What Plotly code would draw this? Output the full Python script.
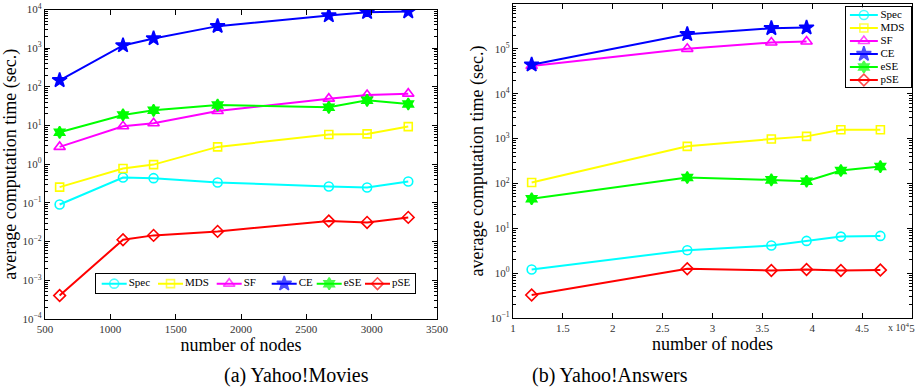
import plotly.graph_objects as go

# ---------------- data ----------------
series = ["Spec", "MDS", "SF", "CE", "eSE", "pSE"]

movies_nodes = [612, 1097, 1331, 1821, 2672, 2965, 3280]
movies_spec = [0.091, 0.455, 0.437, 0.338, 0.267, 0.251, 0.359]
movies_mds = [0.256, 0.776, 0.98, 2.81, 5.85, 6.08, 9.4]
movies_sf = [2.81, 9.6, 11.5, 23.8, 49.6, 61.7, 66.8]
movies_ce = [148, 1178, 1786, 3715, 7000, 8530, 8870]
movies_ese = [6.7, 18.8, 24.8, 34.0, 29.6, 45.0, 36.1]
movies_pse = [0.000403, 0.0112, 0.0145, 0.0184, 0.034, 0.0314, 0.0423]

answers_nodes = [11870, 27470, 35900, 39430, 42870, 46830]
answers_spec = [1.21, 3.25, 4.12, 5.23, 6.53, 6.76]
answers_mds = [105, 671, 977, 1119, 1573, 1573]
answers_sf = [41400, 100000, 138700, 146000]
answers_ce = [44300, 212000, 288000, 298000]
answers_ese = [45.5, 135.5, 120, 112, 194, 238]
answers_pse = [0.326, 1.25, 1.15, 1.21, 1.15, 1.17]

movies_x_ticks = [500, 1000, 1500, 2000, 2500, 3000, 3500]
answers_x_ticks = [10000, 15000, 20000, 25000, 30000, 35000, 40000, 45000, 50000]
answers_x_labels = ["1", "1.5", "2", "2.5", "3", "3.5", "4", "4.5", "5"]
movies_y_exp = [-4, -3, -2, -1, 0, 1, 2, 3, 4]
answers_y_exp = [-1, 0, 1, 2, 3, 4, 5, 6]

captions = ["(a) Yahoo!Movies", "(b) Yahoo!Answers"]
x_title = "number of nodes"
y_title = "average computation time (sec.)"

# ---------------- styles ----------------
colors = {"Spec": "#00FFFF", "MDS": "#FFFF00", "SF": "#FF00FF",
          "CE": "#0000FF", "eSE": "#00FF00", "pSE": "#FF0000"}
symbols = {"Spec": "circle-open", "MDS": "square-open", "SF": "triangle-up-open",
           "CE": "star", "eSE": "hexagram", "pSE": "diamond-open"}
sizes = {"Spec": 9, "MDS": 8, "SF": 10, "CE": 11, "eSE": 9, "pSE": 9}
# horizontal legend (panel a): left end of each entry's line sample, in px
legend_a_starts = [101.7, 158, 216.7, 271.7, 316.7, 365]

FONT = "Liberation Serif, Times New Roman, Times, serif"

fig = go.Figure()

movies_vals = [movies_spec, movies_mds, movies_sf, movies_ce, movies_ese, movies_pse]
answers_vals = [answers_spec, answers_mds, answers_sf, answers_ce, answers_ese, answers_pse]


def marker_style(name, size=None):
    return dict(symbol=symbols[name], size=sizes[name] if size is None else size,
                color=colors[name], line=dict(color=colors[name], width=1.6))


for name, ys in zip(series, movies_vals):
    fig.add_trace(go.Scatter(
        x=movies_nodes[:len(ys)], y=ys, name=name, mode="lines+markers",
        line=dict(color=colors[name], width=2), marker=marker_style(name),
        xaxis="x", yaxis="y", showlegend=False))

for name, ys in zip(series, answers_vals):
    fig.add_trace(go.Scatter(
        x=answers_nodes[:len(ys)], y=ys, name=name, mode="lines+markers",
        line=dict(color=colors[name], width=2), marker=marker_style(name),
        xaxis="x2", yaxis="y2", showlegend=False))

# compact vertical legend for panel (b), drawn in an inset axis
for i, name in enumerate(series):
    fig.add_trace(go.Scatter(
        x=[0.06, 0.275, 0.49], y=[i, i, i], mode="lines+markers",
        line=dict(color=colors[name], width=2),
        marker=dict(symbol=symbols[name], size=[0, sizes[name], 0],
                    color=colors[name], line=dict(color=colors[name], width=1.6)),
        xaxis="x3", yaxis="y3", showlegend=False, hoverinfo="skip"))
fig.add_trace(go.Scatter(
    x=[0.53] * len(series), y=list(range(len(series))), mode="text",
    text=series, textposition="middle right",
    textfont=dict(family=FONT, size=11, color="black"),
    xaxis="x3", yaxis="y3", showlegend=False, hoverinfo="skip"))

# compact horizontal legend for panel (a), drawn in an inset axis
for s, name in zip(legend_a_starts, series):
    fig.add_trace(go.Scatter(
        x=[s, s + 12.5, s + 25], y=[0, 0, 0], mode="lines+markers",
        line=dict(color=colors[name], width=2),
        marker=dict(symbol=symbols[name], size=[0, sizes[name], 0],
                    color=colors[name], line=dict(color=colors[name], width=1.6)),
        xaxis="x4", yaxis="y4", showlegend=False, hoverinfo="skip"))
fig.add_trace(go.Scatter(
    x=[s + 27 for s in legend_a_starts], y=[0] * len(series), mode="text",
    text=series, textposition="middle right",
    textfont=dict(family=FONT, size=11, color="black"),
    xaxis="x4", yaxis="y4", showlegend=False, hoverinfo="skip"))


def minor_vals(lo, hi):
    out = []
    for e in range(lo, hi):
        for m in range(2, 10):
            out.append(m * 10 ** e)
    return out


def sup(e):
    return "10<sup>%d</sup>" % e if e >= 0 else "10<sup>\u2212%d</sup>" % (-e)


axis_common = dict(showline=True, linecolor="black", linewidth=1.2, mirror="ticks",
                   ticks="inside", ticklen=5, tickcolor="black", tickwidth=1,
                   showgrid=False, zeroline=False, automargin=False,
                   tickfont=dict(family=FONT, size=11, color="#333333"),
                   title_font=dict(family=FONT, size=18, color="black"))

inset_axis = dict(showline=True, linecolor="black", linewidth=1, mirror=True,
                  ticks="", showticklabels=False, showgrid=False, zeroline=False,
                  automargin=False, fixedrange=True)

fig.update_layout(
    width=918, height=392, margin=dict(l=0, r=0, t=0, b=0, autoexpand=False),
    paper_bgcolor="white", plot_bgcolor="white",
    font=dict(family=FONT, color="black"),
    xaxis=dict(domain=[45 / 918, 437 / 918], range=[500, 3500],
               tickvals=movies_x_ticks, anchor="y",
               title=dict(text=x_title, standoff=0), **axis_common),
    yaxis=dict(domain=[73 / 392, 382.5 / 392], type="log", range=[-4, 4],
               tickvals=[10 ** e for e in movies_y_exp],
               ticktext=[sup(e) for e in movies_y_exp], anchor="x",
               minor=dict(ticks="inside", ticklen=2.5, tickcolor="black",
                          tickvals=minor_vals(-4, 4)),
               title=dict(text=y_title, standoff=2), **axis_common),
    xaxis2=dict(domain=[513 / 918, 912 / 918], range=[10000, 50000],
                tickvals=answers_x_ticks, ticktext=answers_x_labels, anchor="y2",
                title=dict(text=x_title, standoff=0), **axis_common),
    yaxis2=dict(domain=[74 / 392, 388 / 392], type="log", range=[-1, 6],
                tickvals=[10 ** e for e in answers_y_exp],
                ticktext=[sup(e) for e in answers_y_exp], anchor="x2",
                minor=dict(ticks="inside", ticklen=2.5, tickcolor="black",
                           tickvals=minor_vals(-1, 6)),
                title=dict(text=y_title, standoff=2), **axis_common),
    xaxis3=dict(domain=[846 / 918, 911 / 918], range=[0, 1], anchor="y3", **inset_axis),
    yaxis3=dict(domain=[1 - 87.3 / 392, 1 - 7.3 / 392], range=[5.56, -0.59],
                anchor="x3", **inset_axis),
    xaxis4=dict(domain=[95.7 / 918, 415 / 918], range=[95.7, 415], anchor="y4", **inset_axis),
    yaxis4=dict(domain=[1 - 293.3 / 392, 1 - 274 / 392], range=[-1, 1],
                anchor="x4", **inset_axis),
    annotations=[
        dict(text=captions[0], x=222 / 918, y=1 - 375 / 392, xref="paper", yref="paper",
             yanchor="middle", showarrow=False, font=dict(family=FONT, size=20, color="black")),
        dict(text=captions[1], x=690 / 918, y=1 - 375 / 392, xref="paper", yref="paper",
             yanchor="middle", showarrow=False, font=dict(family=FONT, size=20, color="black")),
        dict(text="x 10<sup>4</sup>", x=912 / 918, y=1 - 327 / 392, xref="paper", yref="paper",
             xanchor="right", yanchor="middle", showarrow=False,
             font=dict(family=FONT, size=10, color="#333333")),
    ],
)

fig.write_html("out.html")
